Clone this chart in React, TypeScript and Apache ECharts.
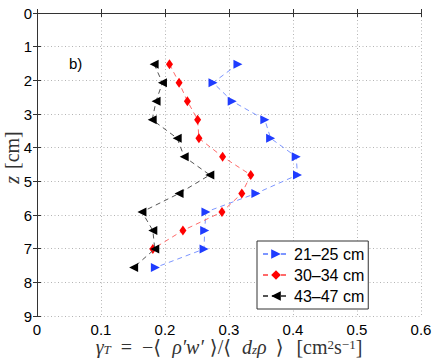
import React, { useEffect, useRef } from "react";
import * as echarts from "echarts";

const depths = [1.52, 2.07, 2.62, 3.17, 3.72, 4.27, 4.81, 5.36, 5.91, 6.46, 7.01, 7.56];
const gamma21to25 = [0.314, 0.275, 0.305, 0.356, 0.365, 0.405, 0.407, 0.342, 0.264, 0.262, 0.261, 0.185];
const gamma30to34 = [0.207, 0.222, 0.235, 0.251, 0.253, 0.29, 0.334, 0.32, 0.289, 0.228, 0.181];
const gamma43to47 = [0.183, 0.196, 0.186, 0.18, 0.219, 0.23, 0.27, 0.222, 0.164, 0.181, 0.184, 0.151];
const seriesNames = ["21–25 cm", "30–34 cm", "43–47 cm"];
const xTicks = [0, 0.1, 0.2, 0.3, 0.4, 0.5, 0.6];
const yTicks = [0, 1, 2, 3, 4, 5, 6, 7, 8, 9];

const pairs = (xs: number[]) => xs.map((x, i) => [x, depths[i]]);

const SANS = "'Liberation Sans', Arial, sans-serif";
const SERIF = "'Liberation Serif', 'DejaVu Serif', serif";

export default function App() {
  const ref = useRef<HTMLDivElement>(null);
  useEffect(() => {
    if (!ref.current) return;
    const chart = echarts.init(ref.current, undefined, { renderer: "svg" });
    const axisCommon = {
      axisLine: { show: true, lineStyle: { color: "#333", width: 1 } },
      axisTick: { show: true, inside: true, length: 4, lineStyle: { color: "#333" } },
    };
    const base = { fontFamily: SERIF, fontSize: 20, color: "#333", lineHeight: 18, verticalAlign: "middle" };
    const mathRich = {
      it: { ...base, fontStyle: "italic" },
      n: { ...base },
      zz: { ...base, fontStyle: "italic", padding: [0, 7, 0, 14] },
      op: { ...base, padding: [0, 10, 0, 10] },
      lb: { ...base, padding: [0, 11, 0, 0] },
      rw: { ...base, fontStyle: "italic", padding: [0, 6, 0, 0] },
      rho: { ...base, fontStyle: "italic", padding: [0, 9, 0, 0] },
      rb: { ...base, padding: [0, 13, 0, 0] },
      sub: { fontFamily: SERIF, fontStyle: "italic", fontSize: 13, color: "#333", lineHeight: 10, verticalAlign: "bottom" },
      sup: { fontFamily: SERIF, fontSize: 13, color: "#333", lineHeight: 10, verticalAlign: "top" },
    };
    chart.setOption({
      animation: false,
      backgroundColor: "#fff",
      grid: { left: 37, right: 15, top: 13, bottom: 42, containLabel: false, outerBoundsMode: "none" },
      xAxis: [
        {
          type: "value",
          min: 0,
          max: 0.6,
          interval: 0.1,
          position: "bottom",
          ...axisCommon,
          axisLabel: {
            fontFamily: SANS,
            fontSize: 15,
            lineHeight: 14,
            color: "#000",
            margin: 6,
            formatter: (v: number) => {
              const t = xTicks.find((k) => Math.abs(k - v) < 1e-9);
              return t === undefined ? "" : String(t);
            },
          },
          splitLine: { show: true, lineStyle: { color: "#b4b4b4", type: [1, 2.5], width: 1 } },
          name: "{it|γ}{sub|T}{op|=}{lb|−⟨}{rw|ρ′w′}{lb|⟩/⟨}{it|d}{sub|z}{rho|ρ}{rb|⟩}{n|[cm}{sup|2}{n|s}{sup|−1}{n|]}",
          nameLocation: "middle",
          nameGap: 22,
          nameMoveOverlap: false,
          nameTextStyle: { rich: mathRich },
        },
        {
          type: "value",
          min: 0,
          max: 0.6,
          interval: 0.1,
          position: "top",
          ...axisCommon,
          axisLabel: { show: false },
          splitLine: { show: false },
        },
      ],
      yAxis: [
        {
          type: "value",
          inverse: true,
          min: 0,
          max: 9,
          interval: 1,
          position: "left",
          ...axisCommon,
          axisLabel: {
            fontFamily: SANS,
            fontSize: 15,
            color: "#000",
            margin: 5,
            formatter: (v: number) => {
              const t = yTicks.find((k) => Math.abs(k - v) < 1e-9);
              return t === undefined ? "" : String(t);
            },
          },
          splitLine: { show: true, lineStyle: { color: "#b4b4b4", type: [1, 2.5], width: 1 } },
          name: "{zz|z}{n|[cm]}",
          nameLocation: "middle",
          nameGap: 16,
          nameRotate: 90,
          nameMoveOverlap: false,
          nameTextStyle: { rich: mathRich },
        },
        {
          type: "value",
          inverse: true,
          min: 0,
          max: 9,
          interval: 1,
          position: "right",
          ...axisCommon,
          axisLabel: { show: false },
          splitLine: { show: false },
        },
      ],
      legend: {
        show: true,
        orient: "vertical",
        left: 257,
        top: 241,
        backgroundColor: "#fff",
        borderColor: "#333",
        borderWidth: 1,
        borderRadius: 0,
        padding: [5, 4, 5, 5],
        itemGap: 5,
        itemWidth: 26,
        itemHeight: 12,
        textStyle: { fontFamily: SANS, fontSize: 16, color: "#000", lineHeight: 16 },
        data: seriesNames,
      },
      graphic: [
        {
          type: "text",
          left: 69,
          top: 56,
          style: { text: "b)", font: `15px ${SANS}`, fill: "#000" },
        },
      ],
      series: [
        {
          name: seriesNames[0],
          type: "line",
          data: pairs(gamma21to25),
          symbol: "triangle",
          symbolRotate: -90,
          symbolSize: 9,
          itemStyle: { color: "#1f3cff" },
          lineStyle: { color: "#7d96ff", width: 1, type: [5, 4] },
          z: 3,
        },
        {
          name: seriesNames[1],
          type: "line",
          data: pairs(gamma30to34),
          symbol: "diamond",
          symbolSize: [7, 10],
          itemStyle: { color: "#ff0000" },
          lineStyle: { color: "#ff6a6a", width: 1, type: [5, 4] },
          z: 4,
        },
        {
          name: seriesNames[2],
          type: "line",
          data: pairs(gamma43to47),
          symbol: "triangle",
          symbolRotate: 90,
          symbolSize: 9,
          itemStyle: { color: "#000" },
          lineStyle: { color: "#555", width: 1, type: [5, 4] },
          z: 5,
        },
      ],
    });
    return () => chart.dispose();
  }, []);
  return (
    <div
      ref={ref}
      style={{ position: "absolute", left: 0, top: 0, width: 436, height: 358 }}
    />
  );
}
